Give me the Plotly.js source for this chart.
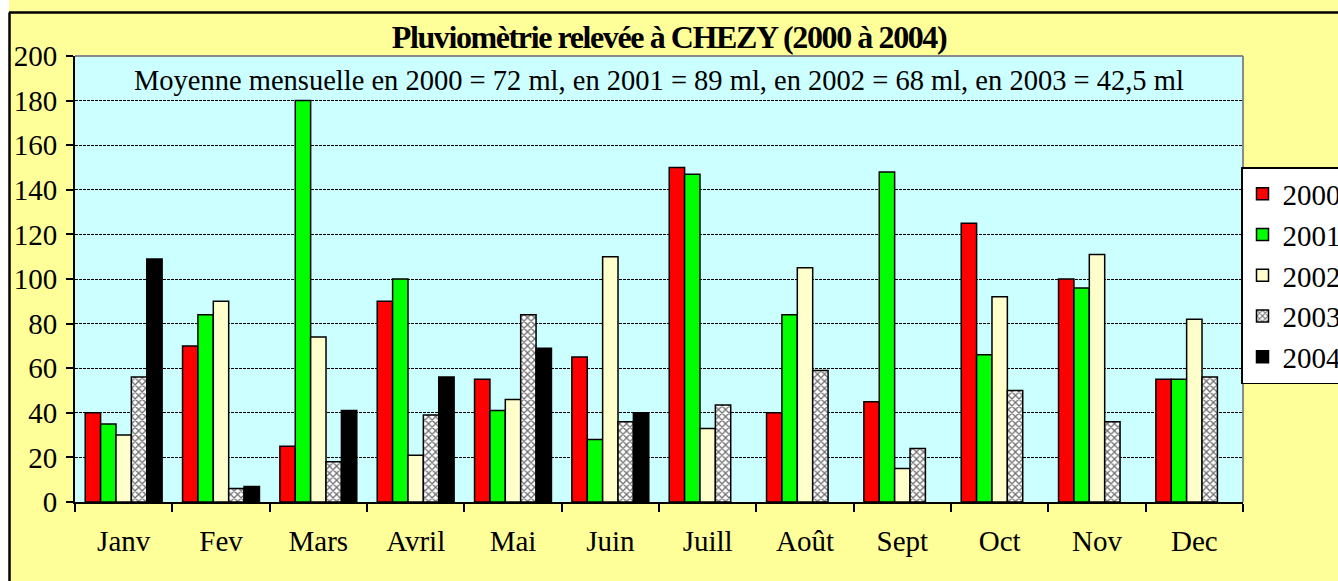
<!DOCTYPE html>
<html>
<head>
<meta charset="utf-8">
<script src="https://cdn.plot.ly/plotly-3.0.1.min.js"></script>
<style>
html,body{margin:0;padding:0;background:#fff;}
#chart{width:1338px;height:581px;}
#chart .legend{transform: translate(1241px, 167px) !important;}
#chart .gtitle{letter-spacing: -1.4px;}
</style>
</head>
<body>
<div id="chart"></div>
<script>
var months = ["Janv","Fev","Mars","Avril","Mai","Juin","Juill","Août","Sept","Oct","Nov","Dec"];
var years = ["2000","2001","2002","2003","2004"];
var v2000 = [40, 70, 25, 90, 55, 65, 150, 40, 45, 125, 100, 55];
var v2001 = [35, 84, 180, 100, 41, 28, 147, 84, 148, 66, 96, 55];
var v2002 = [30, 90, 74, 21, 46, 110, 33, 105, 15, 92, 111, 82];
var v2003 = [56, 6, 18, 39, 84, 36, 43.5, 59, 24, 50, 36, 56];
var v2004 = [109, 7, 41, 56, 69, 40, null, null, null, null, null, null];
var titleText = "Pluviomètrie relevée à CHEZY (2000 à 2004)";
var noteText = "Moyenne mensuelle en 2000 = 72 ml, en 2001 = 89 ml, en 2002 = 68 ml, en 2003 = 42,5 ml";

var serif = "'Liberation Serif', 'Times New Roman', serif";
var colors = ["#FF0000","#00FF00","#FFFFCC","#FFFFFF","#000000"];
var series = [v2000, v2001, v2002, v2003, v2004];

var traces = series.map(function(vals, i){
  var t = {
    type: "bar",
    name: years[i],
    x: months,
    y: vals,
    legendgroup: years[i],
    marker: {color: colors[i], line: {color: "#000", width: 1.5}},
    hoverinfo: "x+y+name"
  };
  if (i === 3) {
    t.marker.pattern = {shape: "x", fgcolor: "#6e6e6e", bgcolor: "#FFFFFF", size: 5, solidity: 0.45, fillmode: "replace"};
  }
  return t;
});

var layout = {
  width: 1338, height: 581,
  paper_bgcolor: "#FFFF99",
  plot_bgcolor: "#CCFFFF",
  margin: {l: 75, r: 95, t: 56, b: 79, pad: 0, autoexpand: false},
  barmode: "group",
  bargap: 0.21,
  bargroupgap: 0,
  showlegend: true,
  font: {family: serif, color: "#000", size: 29},
  title: {
    text: "<b>" + titleText + "</b>",
    font: {family: serif, size: 32, color: "#000"},
    x: 0.5, xanchor: "center", xref: "container",
    y: 1 - 37/581, yref: "container", yanchor: "middle"
  },
  xaxis: {
    type: "category",
    showgrid: false,
    showline: true, linecolor: "#000", linewidth: 2,
    ticks: "outside", tickson: "boundaries", ticklen: 8, tickwidth: 2, tickcolor: "#000",
    tickfont: {family: serif, size: 29, color: "#000"},
    ticklabelstandoff: 12,
    fixedrange: true
  },
  yaxis: {
    range: [0, 200], dtick: 20, tick0: 0,
    showgrid: true, gridcolor: "#000", gridwidth: 1, griddash: "3px,1px",
    zeroline: false,
    showline: true, linecolor: "#000", linewidth: 2,
    ticks: "outside", ticklen: 7, tickwidth: 2, tickcolor: "#000",
    tickfont: {family: serif, size: 29, color: "#000"},
    ticklabelstandoff: 3,
    fixedrange: true
  },
  legend: {
    x: 0.9983, xanchor: "left", xref: "paper",
    y: 0.7444, yanchor: "top", yref: "paper",
    bgcolor: "#FFFFFF", bordercolor: "#000", borderwidth: 1.5,
    font: {family: serif, size: 29, color: "#000"},
    traceorder: "grouped", tracegroupgap: 0,
    itemclick: false, itemdoubleclick: false
  },
  annotations: [{
    text: noteText,
    xref: "paper", yref: "paper", x: 0.5, y: (502-80)/446,
    xanchor: "center", yanchor: "middle", showarrow: false,
    font: {family: serif, size: 28.5, color: "#000"}
  }],
  shapes: [
    {type: "line", xref: "paper", yref: "paper", x0: 0, x1: 1, y0: 1, y1: 1, line: {color: "#8a8a8a", width: 2}, layer: "above"},
    {type: "line", xref: "paper", yref: "paper", x0: 1, x1: 1, y0: 0, y1: 1, line: {color: "#8a8a8a", width: 2}, layer: "above"},
    {type: "rect", xref: "paper", yref: "paper", x0: -75/1168, x1: 1263/1168, y0: (502)/446, y1: (581-79+581)/446, fillcolor: "#FFFFFF", line: {width: 0}, layer: "above"},
    {type: "rect", xref: "paper", yref: "paper", x0: -75/1168, x1: -66/1168, y0: -79/446, y1: 502/446, fillcolor: "#FFFFFF", line: {width: 0}, layer: "above"},
    {type: "line", xref: "paper", yref: "paper", x0: -66/1168, x1: 1263/1168, y0: 489.5/446, y1: 489.5/446, line: {color: "#000", width: 2.5}, layer: "above"},
    {type: "line", xref: "paper", yref: "paper", x0: -65.5/1168, x1: -65.5/1168, y0: -79/446, y1: 489.5/446, line: {color: "#000", width: 2.5}, layer: "above"}
  ]
};

Plotly.newPlot("chart", traces, layout, {displayModeBar: false, staticPlot: true});
</script>
</body>
</html>
